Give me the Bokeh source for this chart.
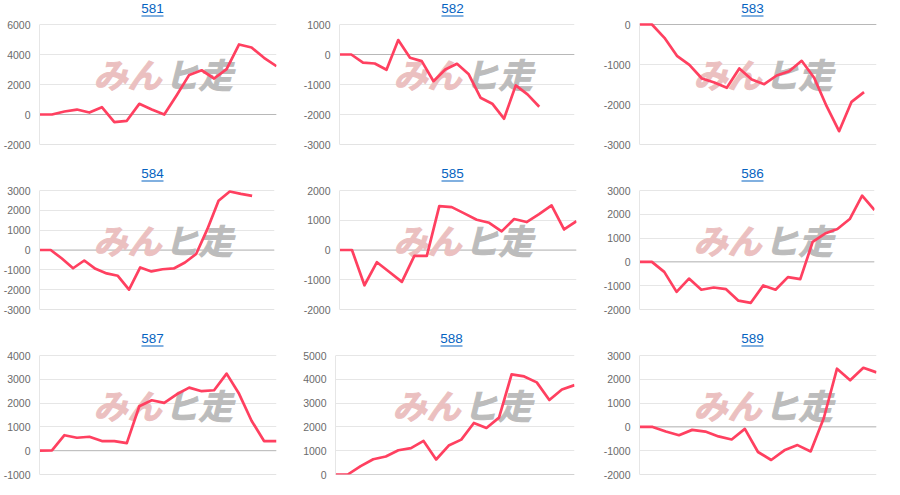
from bokeh.embed import file_html
from bokeh.layouts import column, row
from bokeh.models import BoxAnnotation, FixedTicker, Label, Range1d, Span
from bokeh.plotting import figure
from bokeh.resources import INLINE

titles = ["581", "582", "583", "584", "585", "586", "587", "588", "589"]

v581 = [0, 0, 200, 330, 130, 490, -510, -420, 710, 330, 0, 1290, 2640, 2950, 2400, 3020, 4670, 4470, 3780, 3220]
v582 = [0, 0, -270, -300, -510, 480, -110, -220, -890, -500, -310, -660, -1440, -1640, -2140, -1030, -1330, -1740]
v583 = [0, 0, -333, -783, -1008, -1350, -1450, -1583, -1100, -1375, -1492, -1275, -1167, -908, -1333, -2042, -2667, -1933, -1692]
v584 = [0, 0, -430, -920, -530, -950, -1180, -1300, -2000, -880, -1080, -970, -930, -630, -200, 1050, 2480, 2950, 2830, 2730]
v585 = [0, 0, -1185, -410, -740, -1070, -200, -200, 1475, 1440, 1230, 1015, 915, 625, 1040, 940, 1205, 1500, 690, 970]
v586 = [0, 0, -420, -1260, -700, -1170, -1075, -1145, -1630, -1720, -990, -1170, -640, -725, 840, 1190, 1380, 1800, 2780, 2180]
v587 = [0, 10, 650, 545, 585, 405, 405, 320, 1870, 2120, 2010, 2370, 2650, 2500, 2540, 3240, 2390, 1260, 405, 405]
v588 = [0, 10, 350, 640, 755, 1020, 1105, 1410, 630, 1215, 1465, 2165, 1955, 2390, 4205, 4120, 3870, 3130, 3575, 3755]
v589 = [0, 0, -195, -350, -125, -195, -400, -530, -85, -1055, -1390, -985, -765, -1030, 375, 2445, 1960, 2485, 2290]
series = [v581, v582, v583, v584, v585, v586, v587, v588, v589]

# number of slots on the x axis, some runs stop before the end
slots = [20, 21, 20, 22, 20, 20, 20, 20, 19]

y_ticks = [
    [-2000, 0, 2000, 4000, 6000],
    [-3000, -2000, -1000, 0, 1000],
    [-3000, -2000, -1000, 0],
    [-3000, -2000, -1000, 0, 1000, 2000, 3000],
    [-2000, -1000, 0, 1000, 2000],
    [-2000, -1000, 0, 1000, 2000, 3000],
    [-1000, 0, 1000, 2000, 3000, 4000],
    [0, 1000, 2000, 3000, 4000, 5000],
    [-2000, -1000, 0, 1000, 2000, 3000],
]

# plot edges inside each figure: left, right, top, bottom
frames = [
    (39, 276, 24, 144), (37, 274, 24, 144), (39, 276, 24, 144),
    (37, 274, 25, 144), (39, 276, 25, 144), (37, 274, 25, 144),
    (39, 276, 25, 144), (34, 274, 25, 144), (39, 276, 25, 144),
]
col_width = [300, 300, 285]
row_height = [165, 165, 150]

LINE = "#ff4060"
LINK = "#0563c1"
FONT = "Liberation Sans"
JP = "Noto Sans CJK JP"


def make_panel(i):
    left, right, top, bottom = frames[i]
    width = col_width[i % 3]
    height = row_height[i // 3]
    ticks = y_ticks[i]
    fw = right - left
    fh = bottom - top

    # the frame runs up to the figure top, anything above the frame gets hidden
    # so the title and its underline have to be inside it
    y_end = ticks[-1] + top * (ticks[-1] - ticks[0]) / fh
    p = figure(width=width, height=height,
               output_backend="svg", toolbar_location=None,
               min_border_left=left, min_border_right=width - right,
               min_border_top=0, min_border_bottom=height - bottom,
               x_range=Range1d(0, slots[i] - 1), y_range=Range1d(ticks[0], y_end))
    p.outline_line_color = None
    p.xaxis.visible = False
    p.xgrid.visible = False
    p.ygrid.grid_line_color = "#e6e6e6"

    ax = p.yaxis[0]
    ax.ticker = FixedTicker(ticks=ticks)
    ax.bounds = (ticks[0], ticks[-1])
    ax.major_label_overrides = {t: str(t) for t in ticks}
    ax.axis_line_color = "#e6e6e6"
    ax.major_tick_line_color = None
    ax.major_tick_out = 0
    ax.major_tick_in = 0
    ax.minor_tick_line_color = None
    ax.major_label_standoff = 9
    ax.major_label_text_font = FONT
    ax.major_label_text_font_size = "10.5px"
    ax.major_label_text_color = "#6b6b6b"

    p.add_layout(Span(location=0, dimension="width", line_color="#b8b8b8", line_width=1, level="underlay"))
    p.add_layout(Span(location=ticks[0], dimension="width", line_color="#c8c8c8", line_width=1, level="underlay"))

    # watermark sits behind the line
    p.add_layout(Label(x=fw - 183, y=fh - 73, x_units="screen", y_units="screen", text="みん",
                       text_font=JP, text_font_size="34px", text_font_style="bold italic",
                       text_color="#ebc0c0", text_outline_color="#ebc0c0", level="underlay"))
    p.add_layout(Label(x=fw - 112, y=fh - 73, x_units="screen", y_units="screen", text="ヒ走",
                       text_font=JP, text_font_size="34px", text_font_style="bold italic",
                       text_color="#bcbcbc", text_outline_color="#bcbcbc", level="underlay"))

    p.line(list(range(len(series[i]))), series[i], line_color=LINE, line_width=2.7, line_join="round")

    # title drawn as a link: text plus an underline
    cx = fw - 124
    p.add_layout(Label(x=cx, y=bottom - 8, x_units="screen", y_units="screen", text=titles[i],
                       text_align="center", text_baseline="alphabetic",
                       text_font=FONT, text_font_size="13.5px", text_color=LINK))
    p.add_layout(BoxAnnotation(left=cx - 11, right=cx + 11, top=bottom - 15, bottom=bottom - 16,
                               left_units="screen", right_units="screen", bottom_units="screen", top_units="screen",
                               fill_color=LINK, fill_alpha=1, line_color=None))
    return p


panels = [make_panel(i) for i in range(9)]
rows = [row(*panels[r * 3:r * 3 + 3], spacing=0) for r in range(3)]
layout = column(*rows, spacing=0, styles={"position": "absolute", "left": "0px", "top": "0px"})

open("out.html", "w").write(file_html(layout, INLINE))
